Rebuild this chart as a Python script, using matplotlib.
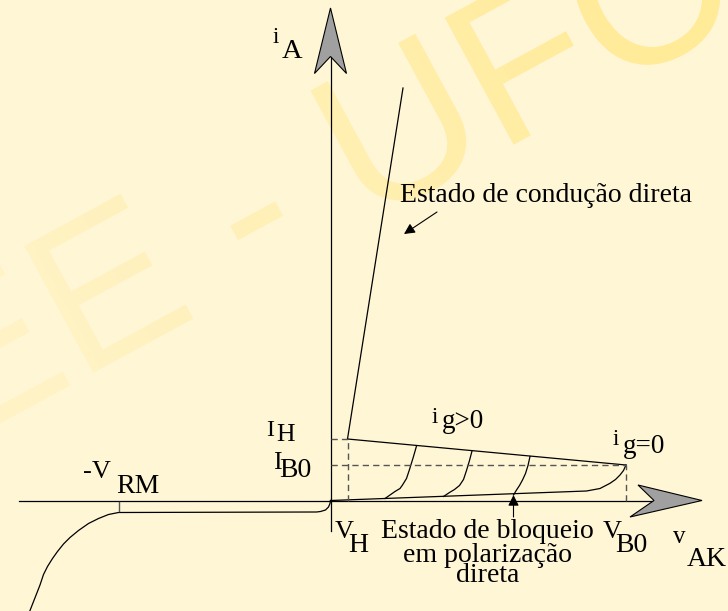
import numpy as np
import matplotlib.pyplot as plt
import matplotlib.transforms as mtransforms
from matplotlib.patches import Polygon, PathPatch
from matplotlib.textpath import TextPath
from matplotlib.font_manager import FontProperties
from matplotlib.colors import LinearSegmentedColormap

# Curva característica do tiristor (unidades do desenho, origem no cruzamento dos eixos)
v_axis = (-311.5, 323.5)
i_axis = (-30.5, 444.0)

V_H, I_H = 17.0, 61.5
V_B0, I_B0 = 295.5, 35.5
V_RM = -212.0

# estado de condução direta
cond_v = [V_H, 72.5]
cond_i = [I_H, 412.5]

# envoltória dos pontos de disparo (ig > 0)
trig_v = [V_H, V_B0]
trig_i = [I_H, I_B0]

# bloqueio direto (ig = 0)
block_v = [0, 256, 269.5, 279.5, 285, 289.5, 293, V_B0]
block_i = [0, 9.5, 12, 17.2, 21, 25.5, 30, I_B0]

# transições com corrente de gatilho
gate1_v = [86, 83, 79, 76, 72, 69.5, 64.5, 54.5]
gate1_i = [54.5, 44, 31, 22, 15.5, 12, 9, 2]
gate2_v = [141.5, 139, 136, 133, 129, 124, 119, 113]
gate2_i = [49.5, 40, 30, 21, 15, 11, 8, 4]
gate3_v = [199.5, 197.5, 195, 192, 189, 186, 183]
gate3_i = [44, 35, 27, 20.5, 15, 10.5, 5.5]

# bloqueio reverso
rev_v = [0, -0.5, -2, -5, -10, -14, -212, -222, -232, -242, -252,
         -260.5, -267, -273, -278, -283, -287, -290.5, -295, -300.5]
rev_i = [0, -3, -6.5, -9.5, -11, -11.5, -12, -14, -18, -23, -30,
         -37, -43.5, -51, -58, -66, -74, -84.5, -96, -110]

bg = "#fff6d6"
serif = ["Liberation Serif", "DejaVu Serif"]
xlim = (-330.5, 397.5)
ylim = (-110.5, 500.5)

fig = plt.figure(figsize=(7.28, 6.11), dpi=100)
fig.patch.set_facecolor(bg)
ax = fig.add_axes([0, 0, 1, 1])
ax.set_facecolor(bg)

# marca d'água com degradê ao longo do texto
ang = 28.5
tp = TextPath((0, 0), "EE - UFC", size=210,
              prop=FontProperties(family="Liberation Sans"))
tr = mtransforms.Affine2D().rotate_deg(ang).translate(-375.5, 52.5) + ax.transData
wm_patch = PathPatch(tp, transform=tr, fc="none", ec="none")
ax.add_patch(wm_patch)
gx, gy = np.meshgrid(np.linspace(*xlim, 300), np.linspace(*ylim, 250))
proj = gx * np.cos(np.radians(ang)) + gy * np.sin(np.radians(ang))
wm_cmap = LinearSegmentedColormap.from_list("wm", ["#fff3c6", "#fff0b4", "#ffeb98"])
im = ax.imshow(proj, extent=(*xlim, *ylim), origin="lower", cmap=wm_cmap,
               vmin=-200, vmax=500, aspect="auto", zorder=0,
               interpolation="bilinear")
im.set_clip_path(wm_patch)

ax.set_xlim(*xlim)
ax.set_ylim(*ylim)
ax.axis("off")

lw = 0.9
k = "black"

# eixos
ax.plot(v_axis, [0, 0], color=k, lw=lw, zorder=2)
ax.plot([0, 0], i_axis, color=k, lw=lw, zorder=2)

end_v = v_axis[1]
ax.add_patch(Polygon([(end_v + 48, 0), (end_v - 16, 15.5), (end_v, 0),
                      (end_v - 24, -16.5)],
                     closed=True, fc="#a0a0a0", ec=k, lw=0.8, zorder=3))
end_i = i_axis[1]
ax.add_patch(Polygon([(0, end_i + 48.5), (-16, end_i - 17), (0, end_i),
                      (16, end_i - 17)],
                     closed=True, fc="#a0a0a0", ec=k, lw=0.8, zorder=3))

# curvas
ax.plot(cond_v, cond_i, color=k, lw=lw)
ax.plot(trig_v, trig_i, color=k, lw=lw)
ax.plot(block_v, block_i, color=k, lw=lw)
for gv, gi in [(gate1_v, gate1_i), (gate2_v, gate2_i), (gate3_v, gate3_i)]:
    ax.plot(gv, gi, color=k, lw=lw)
ax.plot(rev_v, rev_i, color=k, lw=lw)

# linhas tracejadas de referência
dash = dict(color="#555555", lw=1.0, dashes=(4.5, 3))
ax.plot([0, V_H], [I_H, I_H], **dash)
ax.plot([V_H, V_H], [0, I_H], **dash)
ax.plot([0, V_B0], [I_B0, I_B0], **dash)
ax.plot([V_B0, V_B0], [0, I_B0], **dash)
ax.plot([V_RM, V_RM], [-1, -10], color="#555555", lw=1.0)

# setas indicativas
arrow = dict(arrowstyle="-|>", color=k, lw=0.8, mutation_scale=16,
             shrinkA=0, shrinkB=0)
ax.annotate("", xy=(73.5, 266.5), xytext=(106.5, 288.5), arrowprops=arrow)
ax.annotate("", xy=(183, 5.5), xytext=(183, -16.5), arrowprops=arrow)

# rótulos
def label(x, y, s, fs):
    ax.text(x, y, s, fontsize=fs, family=serif, color=k,
            ha="left", va="baseline", zorder=4)

label(-57.5, 457.5, "i", 16.5)
label(-49, 442.5, "A", 20.5)

label(-64.5, 64.5, "I", 17.5)
label(-54.5, 59.5, "H", 18.5)
label(-57.5, 31.5, "I", 18.5)
label(-51.5, 23.5, "B0", 20)

label(-247.5, 22.5, "-V", 19)
label(-214.5, 7.5, "RM", 20)

label(101, 77.5, "i", 16.5)
label(111, 72.5, "g>0", 19.5)
label(282.5, 55.5, "i", 16.5)
label(292.5, 47.5, "g=0", 19.5)

label(4.5, -37.5, "V", 19)
label(17.5, -51.5, "H", 20)
label(272.5, -37.5, "V", 19)
label(284.5, -51.5, "B0", 20)
label(342.5, -42.5, "v", 18)
label(356.5, -65.5, "AK", 20)

label(69, 298, "Estado de condução direta", 20)

for txt, y in [("Estado de bloqueio", -37.5), ("em polarização", -61.5),
               ("direta", -81.5)]:
    ax.text(157, y, txt, fontsize=20, family=serif, color=k,
            ha="center", va="baseline", zorder=4)

fig.savefig("out.png", dpi=100, facecolor=bg)
